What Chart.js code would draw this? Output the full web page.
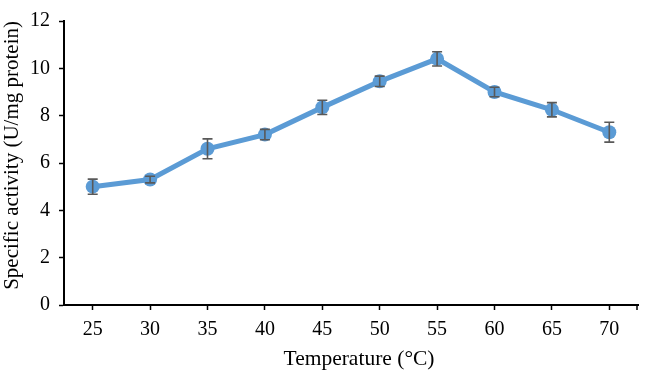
<!DOCTYPE html>
<html>
<head>
<meta charset="utf-8">
<script src="https://cdn.jsdelivr.net/npm/chart.js@4.4.1/dist/chart.umd.min.js"></script>
<style>
  html, body { margin: 0; padding: 0; background: #fff; }
  #wrap { width: 645px; height: 372px; position: relative; }
</style>
</head>
<body>
<div id="wrap"><canvas id="c" width="645" height="372"></canvas></div>
<script>
const temperatures = ['25', '30', '35', '40', '45', '50', '55', '60', '65', '70'];
const activity = [5.0, 5.3, 6.6, 7.2, 8.35, 9.45, 10.4, 9.0, 8.25, 7.3];
const activityError = [0.32, 0.14, 0.42, 0.22, 0.3, 0.22, 0.3, 0.2, 0.3, 0.42];
const yTicks = [0, 2, 4, 6, 8, 10, 12];
const xTitle = 'Temperature (°C)';
const yTitle = 'Specific activity (U/mg protein)';

const FONT = "'Liberation Serif', 'Times New Roman', serif";

const errorBars = {
  id: 'errorBars',
  afterDatasetsDraw(chart) {
    const ctx = chart.ctx;
    const meta = chart.getDatasetMeta(0);
    const ys = chart.scales.y;
    ctx.save();
    ctx.strokeStyle = '#595959';
    ctx.lineWidth = 1.6;
    meta.data.forEach((pt, i) => {
      const x = pt.x;
      const top = ys.getPixelForValue(activity[i] + activityError[i]);
      const bot = ys.getPixelForValue(activity[i] - activityError[i]);
      ctx.beginPath();
      ctx.moveTo(x, top); ctx.lineTo(x, bot);
      ctx.moveTo(x - 5, top); ctx.lineTo(x + 5, top);
      ctx.moveTo(x - 5, bot); ctx.lineTo(x + 5, bot);
      ctx.stroke();
    });
    const ca = chart.chartArea;
    // end tick at right edge of x axis
    ctx.strokeStyle = '#000';
    ctx.lineWidth = 1.5;
    ctx.beginPath();
    ctx.moveTo(ca.right - 1, ca.bottom);
    ctx.lineTo(ca.right - 1, ca.bottom + 5);
    ctx.stroke();
    // x axis title
    ctx.fillStyle = '#000';
    ctx.font = '21.5px ' + FONT;
    ctx.textAlign = 'center';
    ctx.textBaseline = 'alphabetic';
    ctx.fillText(xTitle, (ca.left + ca.right) / 2 + 8, chart.height - 7);
    ctx.restore();
  }
};

new Chart(document.getElementById('c'), {
  type: 'line',
  data: {
    labels: temperatures,
    datasets: [{
      data: activity,
      borderColor: '#5B9BD5',
      backgroundColor: '#5B9BD5',
      borderWidth: 5,
      pointRadius: 7,
      pointHoverRadius: 7,
      pointBorderWidth: 0,
      tension: 0
    }]
  },
  options: {
    responsive: false,
    animation: false,
    devicePixelRatio: 1,
    layout: { padding: { top: 7, right: 2, left: 0, bottom: 0 } },
    plugins: { legend: { display: false }, tooltip: { enabled: false } },
    scales: {
      x: {
        type: 'category',
        offset: true,
        grid: { display: true, drawOnChartArea: false, offset: false, tickLength: 5, tickWidth: 1.5, tickColor: '#000' },
        border: { display: true, color: '#000', width: 2 },
        ticks: { color: '#000', font: { family: FONT, size: 20 }, padding: 8, maxRotation: 0, autoSkip: false },
        title: { display: false },
        afterFit(s) { s.height = 67; }
      },
      y: {
        min: 0, max: 12,
        afterBuildTicks(s) { s.ticks = yTicks.map(v => ({ value: v })); },
        grid: { display: true, drawOnChartArea: false, tickLength: 5, tickWidth: 1.5, tickColor: '#000' },
        border: { display: true, color: '#000', width: 2 },
        ticks: { color: '#000', font: { family: FONT, size: 20 }, padding: 9 },
        title: { display: true, text: yTitle, align: 'end', color: '#000', font: { family: FONT, size: 21 }, padding: { top: 0, bottom: 0 } },
        afterFit(s) { s.width = 64; }
      }
    }
  },
  plugins: [errorBars]
});
</script>
</body>
</html>
